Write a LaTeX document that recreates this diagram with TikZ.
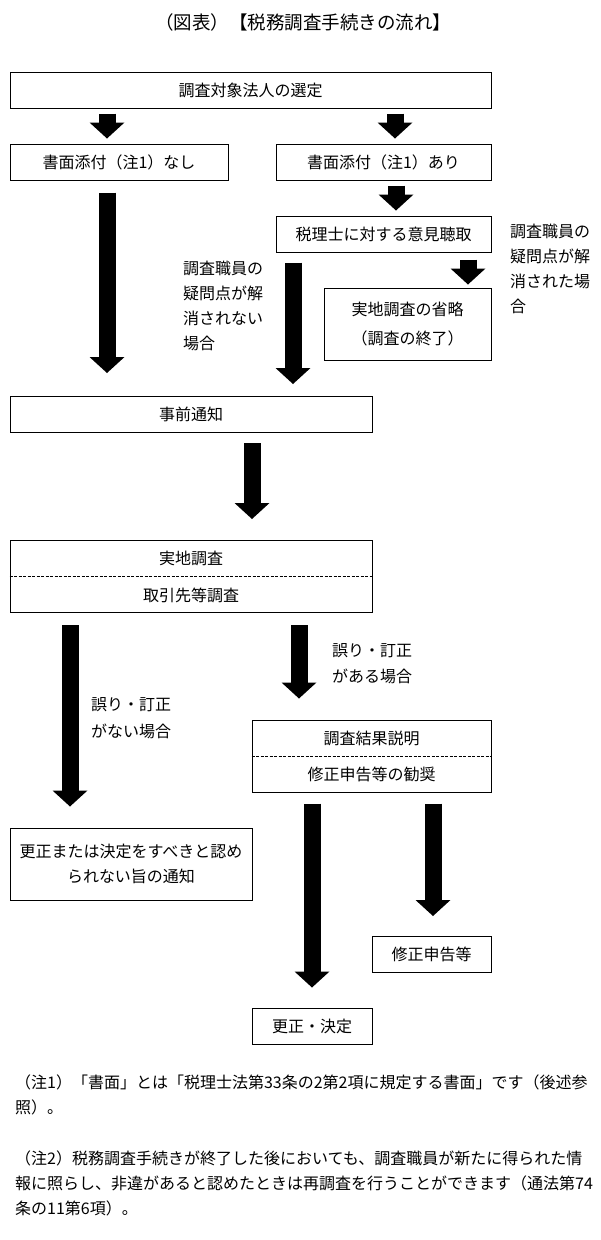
\documentclass[tikz,border=0pt]{standalone}
\usepackage{fontspec}
\setmainfont{Noto Sans CJK JP}
\usepackage{tikz}
\usetikzlibrary{arrows.meta}
\tikzstyle{box} = [rectangle, draw=black, line width=1pt, minimum height=36pt, inner sep=0pt, text centered, align=center]
\tikzstyle{twobox} = [box, minimum height=72pt]
\tikzstyle{label} = [align=left, inner sep=0pt, anchor=west]
\tikzstyle{note} = [align=left, inner sep=0pt, anchor=north west]
\tikzstyle{split} = [line width=0.9pt, dash pattern=on 3pt off 1.5pt]
\tikzstyle{bigarrow} = [line width=17pt, -{Triangle[width=35pt,length=16pt,line width=0pt]}]

\begin{document}
\begin{tikzpicture}[x=1pt, y=-1pt, font=\fontsize{16}{25}\selectfont]
\useasboundingbox (0,0) rectangle (600,1240);

\node(title)    [font=\fontsize{18.5}{22}\selectfont] at (303,22) {（図表）【税務調査手続きの流れ】};

\node(select)   [box, minimum width=481pt]   at (250.5,90)   {調査対象法人の選定};
\node(nashi)    [box, minimum width=218pt]   at (119,162)    {書面添付（注1）なし};
\node(ari)      [box, minimum width=215pt]   at (383.5,162)  {書面添付（注1）あり};
\node(hearing)  [box, minimum width=215pt]   at (383.5,234)  {税理士に対する意見聴取};
\node(omit)     [twobox, minimum width=167pt] at (407.5,324) {実地調査の省略\\[4pt]（調査の終了）};
\node(notice)   [box, minimum width=362pt]   at (191,414.5)  {事前通知};
\node(onsite)   [twobox, minimum width=362pt] at (191,576.5) {実地調査\\[12pt]取引先等調査};
\node(result)   [twobox, minimum width=239pt] at (371.5,756) {調査結果説明\\[11pt]修正申告等の勧奨};
\node(noaction) [twobox, minimum width=242pt] at (131,864)   {更正または決定をすべきと認め\\られない旨の通知};
\node(amend)    [box, minimum width=119pt]   at (431.5,954.5) {修正申告等};
\node(decision) [box, minimum width=120pt]   at (312,1026)   {更正・決定};

\draw [split] (onsite.west) -- (onsite.east);
\draw [split] (result.west) -- (result.east);

\node(lbl1)     [label] at (183,305.5) {調査職員の\\疑問点が解\\消されない\\場合};
\node(lbl2)     [label] at (510,268.5) {調査職員の\\疑問点が解\\消された場\\合};
\node(lbl3)     [label, font=\fontsize{16}{27}\selectfont] at (91,718.5) {誤り・訂正\\がない場合};
\node(lbl4)     [label, font=\fontsize{16}{26}\selectfont] at (332,664) {誤り・訂正\\がある場合};

\draw [bigarrow, shorten <=5pt,  shorten >=5pt]  (107,0 |- select.south)  -- (107,0 |- nashi.north);
\draw [bigarrow, shorten <=5pt,  shorten >=5pt]  (395,0 |- select.south)  -- (395,0 |- ari.north);
\draw [bigarrow, shorten <=12pt, shorten >=23pt] (107,0 |- nashi.south)   -- (107,0 |- notice.north);
\draw [bigarrow, shorten <=5pt,  shorten >=5pt]  (396,0 |- ari.south)     -- (396,0 |- hearing.north);
\draw [bigarrow, shorten <=10pt, shorten >=12pt] (293,0 |- hearing.south) -- (293,0 |- notice.north);
\draw [bigarrow, shorten <=7pt,  shorten >=3pt]  (468,0 |- hearing.south) -- (468,0 |- omit.north);
\draw [bigarrow, shorten <=10pt, shorten >=21pt] (252,0 |- notice.south)  -- (252,0 |- onsite.north);
\draw [bigarrow, shorten <=12pt, shorten >=21pt] (70,0 |- onsite.south)   -- (70,0 |- noaction.north);
\draw [bigarrow, shorten <=12pt, shorten >=21pt] (299,0 |- onsite.south)  -- (299,0 |- result.north);
\draw [bigarrow, shorten <=11pt, shorten >=20pt] (312,0 |- result.south)  -- (312,0 |- decision.north);
\draw [bigarrow, shorten <=11pt, shorten >=20pt] (433,0 |- result.south)  -- (433,0 |- amend.north);

\node(note1)    [note] at (15,1075) {（注1）「書面」とは「税理士法第33条の2第2項に規定する書面」です（後述参\\照）。};
\node(note2)    [note] at (15,1151) {（注2）税務調査手続きが終了した後においても、調査職員が新たに得られた情\\報に照らし、非違があると認めたときは再調査を行うことができます（通法第74\\条の11第6項）。};

\end{tikzpicture}
\end{document}
